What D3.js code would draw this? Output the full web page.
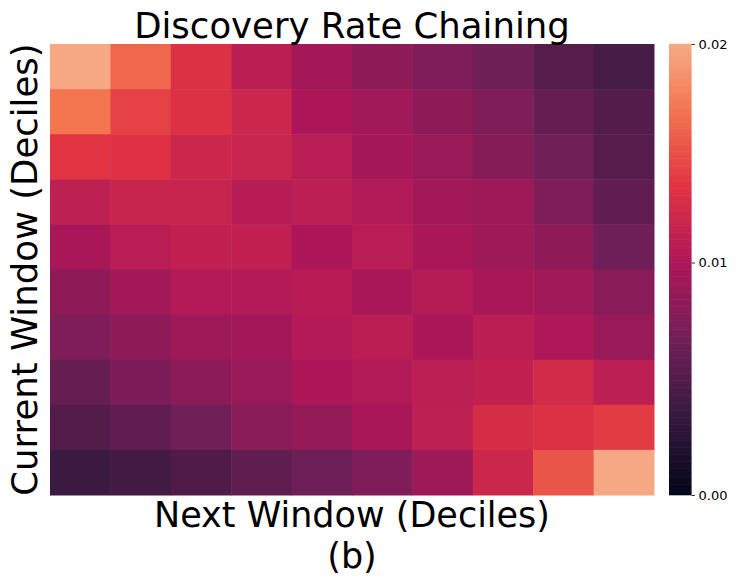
<!DOCTYPE html>
<html>
<head>
<meta charset="utf-8">
<script src="https://cdn.jsdelivr.net/npm/d3@7"></script>
<style>
  html, body { margin: 0; padding: 0; background: #fff; }
  svg { display: block; font-family: "DejaVu Sans", sans-serif; }
</style>
</head>
<body>
<svg id="chart" width="741" height="584"></svg>
<script>
// ---- data ----
const title = "Discovery Rate Chaining";
const xLabel = "Next Window (Deciles)";
const subLabel = "(b)";
const yLabel = "Current Window (Deciles)";
const xDeciles = [1, 2, 3, 4, 5, 6, 7, 8, 9, 10];
const yDeciles = [10, 9, 8, 7, 6, 5, 4, 3, 2, 1]; // top row first
const row0 = [0.0193, 0.0159, 0.0130, 0.0108, 0.0095, 0.0082, 0.0074, 0.0065, 0.0052, 0.0043];
const row1 = [0.0166, 0.0140, 0.0130, 0.0119, 0.0100, 0.0093, 0.0082, 0.0074, 0.0060, 0.0050];
const row2 = [0.0133, 0.0131, 0.0119, 0.0117, 0.0107, 0.0095, 0.0088, 0.0078, 0.0067, 0.0052];
const row3 = [0.0110, 0.0116, 0.0116, 0.0106, 0.0109, 0.0102, 0.0094, 0.0091, 0.0074, 0.0058];
const row4 = [0.0097, 0.0107, 0.0112, 0.0112, 0.0100, 0.0107, 0.0098, 0.0091, 0.0083, 0.0066];
const row5 = [0.0083, 0.0094, 0.0104, 0.0104, 0.0106, 0.0098, 0.0105, 0.0097, 0.0093, 0.0079];
const row6 = [0.0074, 0.0083, 0.0091, 0.0094, 0.0104, 0.0108, 0.0099, 0.0108, 0.0101, 0.0088];
const row7 = [0.0060, 0.0073, 0.0081, 0.0088, 0.0100, 0.0102, 0.0109, 0.0112, 0.0123, 0.0109];
const row8 = [0.0050, 0.0058, 0.0067, 0.0079, 0.0086, 0.0098, 0.0110, 0.0126, 0.0130, 0.0137];
const row9 = [0.0036, 0.0041, 0.0048, 0.0057, 0.0066, 0.0074, 0.0091, 0.0119, 0.0150, 0.0193];
const rows = [row0, row1, row2, row3, row4, row5, row6, row7, row8, row9];
const vmin = 0;
const vmax = 0.0194;
const cbTickValues = [0, 0.01, vmax];
const cbTickLabels = ["0.00", "0.01", "0.02"];

// rocket colormap stops
const rocketStops = ["#03051A", "#35193e", "#701f57", "#ad1759", "#e13342", "#f37651", "#f6b48f", "#FAEBDD"];
const rocketTopFraction = 0.834;

// ---- layout ----
const svg = d3.select("#chart");
const L = 50, R = 654, T = 44, B = 495;
const cbL = 669, cbW = 22.5;

const x = d3.scaleBand().domain(xDeciles).range([L, R]).paddingInner(0).paddingOuter(0);
const y = d3.scaleBand().domain(yDeciles).range([T, B]).paddingInner(0).paddingOuter(0);
const color = d3.scaleLinear()
  .domain(rocketStops.map((_, k) => (k / (rocketStops.length - 1)) * vmax / rocketTopFraction))
  .range(rocketStops)
  .interpolate(d3.interpolateRgb)
  .clamp(true);

const cells = [];
rows.forEach((row, ri) => row.forEach((v, ci) => cells.push({ r: yDeciles[ri], c: xDeciles[ci], v })));

svg.append("g").selectAll("rect").data(cells).join("rect")
  .attr("x", d => x(d.c))
  .attr("y", d => y(d.r))
  .attr("width", x.bandwidth() + 0.5)
  .attr("height", y.bandwidth() + 0.5)
  .attr("fill", d => color(d.v));

// colorbar
const cy = d3.scaleLinear().domain([vmin, vmax]).range([B, T]);
const nSteps = 256;
const steps = d3.range(nSteps).map(i => vmin + (vmax - vmin) * (i + 0.5) / nSteps);
const stepH = (B - T) / nSteps;
svg.append("g").selectAll("rect").data(steps).join("rect")
  .attr("x", cbL)
  .attr("y", d => cy(d) - stepH / 2 - 0.3)
  .attr("width", cbW)
  .attr("height", stepH + 0.6)
  .attr("fill", d => color(d));

const cbAxis = d3.axisRight(cy)
  .tickValues(cbTickValues)
  .tickFormat((d, i) => cbTickLabels[i])
  .tickSize(3.5)
  .tickPadding(3.5);
const ga = svg.append("g").attr("transform", `translate(${cbL + cbW},0)`).call(cbAxis);
ga.select(".domain").remove();
ga.selectAll("line").attr("stroke", "#000").attr("stroke-width", 0.8);
ga.selectAll("text").attr("font-family", "DejaVu Sans").attr("font-size", 13).attr("fill", "#000");

// texts
const cx = (L + R) / 2;
svg.append("text").attr("x", cx).attr("y", 38).attr("text-anchor", "middle")
  .attr("font-size", 35.5).attr("fill", "#000").text(title);
svg.append("text").attr("x", cx).attr("y", 527).attr("text-anchor", "middle")
  .attr("font-size", 35).attr("fill", "#000").text(xLabel);
svg.append("text").attr("x", cx).attr("y", 568).attr("text-anchor", "middle")
  .attr("font-size", 35).attr("fill", "#000").text(subLabel);
svg.append("text").attr("transform", `translate(37,${(T + B) / 2}) rotate(-90)`)
  .attr("text-anchor", "middle").attr("font-size", 35.5).attr("fill", "#000").text(yLabel);
</script>
</body>
</html>
